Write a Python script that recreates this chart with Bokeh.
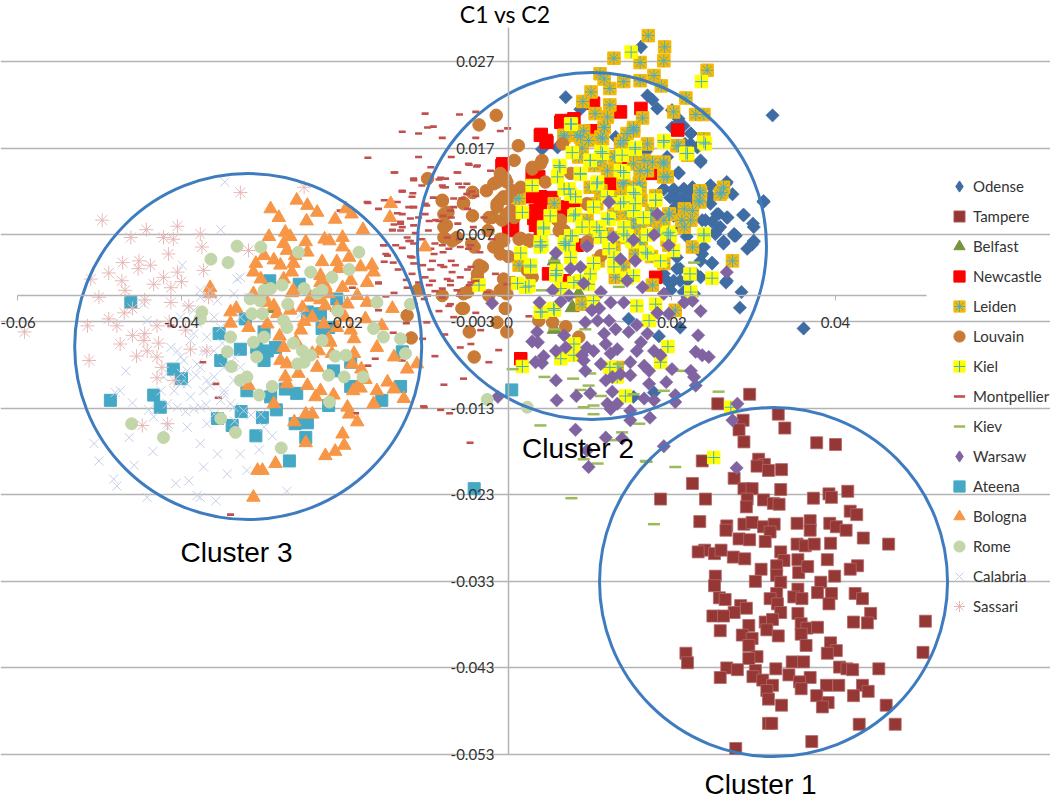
from bokeh.plotting import figure
from bokeh.models import ColumnDataSource, FixedTicker, Range1d, Legend, LegendItem
from bokeh.core.properties import value
from bokeh.embed import file_html
from bokeh.resources import INLINE

# All points are (C1, C2) in thousandths
odense = [(16.2,28.7),(32.3,20.8),(7.0,22.9),(8.8,21.5),(17.0,23.1),(17.6,22.6),(18.2,21.6),(20.0,21.4),(20.8,20.4),(20.0,19.4),(22.3,18.7),(13.1,18.3),(4.1,16.9),(6.0,17.1),(22.3,17.5),(23.5,15.4),(20.8,14.1),(16.8,16.6),(24.7,12.7),(26.6,12.9),(31.2,10.9),(19.0,12.3),(20.2,12.1),(21.5,12.3),(20.6,11.0),(21.9,11.4),(20.6,10.0),(22.3,10.0),(24.7,10.6),(25.5,9.4),(26.8,9.0),(28.7,9.3),(30.0,7.9),(25.5,7.5),(27.6,6.9),(23.7,8.7),(21.0,7.9),(30.0,6.2),(26.3,6.2),(29.8,5.9),(26.3,6.0),(23.7,4.8),(24.9,3.7),(26.6,1.5),(28.5,0.4),(28.3,-1.4),(20.6,3.1),(19.4,1.7),(21.0,1.7),(22.7,0.2),(19.8,0.6),(23.5,2.1),(14.7,-2.7),(18.4,-4.7),(21.0,-3.7),(17.8,-11.2),(36.1,-3.8),(15.3,-11.7),(27.6,7.1),(21.9,-0.2),(21.0,9.0),(21.8,6.8),(22.5,11.0),(20.2,9.2)]
odense += [(20.2,19.4),(21.4,19.6),(22.3,18.7),(23.5,15.6),(20.8,14.2),(19.0,12.3),(20.2,12.3),(21.4,12.3),(22.5,12.5),(19.8,11.3),(20.8,11.3),(21.9,11.7),(20.6,10.4),(21.4,10.4),(20.8,9.2),(20.2,10.0),(24.7,12.7),(26.7,13.1),(24.7,11.5),(27.4,11.7),(31.2,10.8),(25.7,9.4),(26.7,9.0),(28.8,9.3),(24.1,8.7),(24.9,8.5),(25.9,7.9),(29.9,8.3),(27.8,6.9),(25.3,7.1),(26.3,6.2),(30.0,6.3),(29.2,5.4),(19.4,16.0),(23.1,17.1),(21.6,17.5),(24.9,3.8),(26.7,1.7),(21.0,3.1),(20.2,1.7),(21.9,1.7),(19.8,0.6),(21.4,0.4),(22.9,2.5),(23.5,4.0),(19.0,2.5),(23.9,5.6),(20.6,4.4)]
tampere = [(29.5,-11.4),(25.6,-12.5),(33.0,-13.7),(28.7,-14.4),(28.2,-15.5),(33.8,-15.3),(28.8,-16.9),(37.7,-17.0),(40.0,-17.2),(30.6,-18.9),(23.7,-19.1),(31.3,-19.5),(30.4,-19.7),(31.8,-20.2),(33.4,-20.1),(27.6,-21.1),(22.5,-21.7),(28.8,-22.3),(29.8,-22.3),(33.3,-22.4),(18.6,-23.5),(24.1,-23.5),(29.2,-23.5),(29.1,-24.4),(31.2,-23.6),(32.4,-24.0),(33.1,-24.1),(37.3,-23.4),(39.2,-22.9),(39.5,-23.3),(41.5,-22.6),(41.8,-24.9),(42.6,-25.3),(23.4,-26.1),(26.7,-26.6),(26.6,-27.1),(28.8,-26.4),(29.8,-26.2),(31.2,-26.7),(32.5,-26.4),(32.0,-27.3),(35.3,-26.3),(36.9,-26.0),(39.3,-26.3),(40.1,-26.7),(41.3,-27.1),(36.9,-27.1),(28.2,-28.1),(29.5,-28.2),(31.4,-28.4),(43.4,-28.0),(46.5,-28.7),(39.4,-28.6),(35.3,-28.7),(36.3,-28.9),(37.4,-28.7),(24.0,-29.4),(23.2,-29.6),(25.2,-29.8),(26.0,-29.4),(27.5,-30.2),(28.9,-30.4),(33.3,-29.6),(33.7,-30.6),(35.4,-30.5),(39.0,-30.5),(32.8,-31.2),(30.9,-31.6),(35.5,-32.0),(36.6,-31.3),(42.7,-31.2),(41.8,-31.6),(25.3,-32.4),(25.2,-33.5),(30.2,-33.0),(32.8,-32.3),(33.3,-33.1),(39.9,-32.4),(38.2,-33.1),(37.8,-34.3),(35.4,-33.9),(32.8,-34.4),(39.5,-34.4),(39.2,-35.6),(42.4,-34.4),(43.3,-35.0),(25.8,-34.9),(26.5,-35.1),(28.4,-35.8),(29.1,-36.1),(27.6,-36.6),(32.0,-35.0),(32.9,-35.6),(34.9,-34.8),(35.9,-35.0),(33.3,-36.6),(25.0,-37.0),(26.3,-37.0),(35.4,-36.7),(44.3,-36.7),(31.4,-37.7),(32.3,-37.4),(29.4,-38.1),(35.8,-37.9),(36.5,-38.4),(37.8,-38.3),(42.2,-37.7),(43.9,-37.8),(51.0,-37.6),(25.9,-38.7),(31.6,-38.6),(33.0,-39.3),(35.8,-39.1),(28.6,-39.2),(29.8,-39.6),(29.4,-40.4),(36.4,-40.4),(39.4,-40.1),(40.1,-41.0),(39.0,-41.3),(21.7,-41.3),(21.9,-42.4),(50.7,-41.2),(30.4,-41.7),(29.4,-41.9),(34.7,-42.3),(36.1,-42.3),(26.7,-43.0),(28.0,-43.2),(32.7,-43.1),(40.5,-42.9),(41.4,-43.1),(42.1,-43.2),(45.3,-43.1),(25.9,-44.1),(30.2,-43.3),(29.9,-44.0),(31.1,-44.4),(34.3,-43.8),(36.9,-44.1),(35.6,-44.6),(32.3,-45.0),(35.8,-45.4),(38.9,-45.0),(40.4,-45.0),(31.6,-45.6),(43.3,-45.0),(44.0,-45.7),(37.7,-46.2),(42.2,-46.2),(31.8,-46.6),(39.1,-47.0),(38.4,-47.5),(46.2,-47.3),(33.4,-47.3),(31.8,-49.4),(32.2,-49.4),(42.9,-49.5),(47.3,-49.5),(37.1,-51.5),(27.8,-52.3)]
belfast = [(8.6,0.2),(7.8,-1.4),(5.6,4.0),(5.6,-3.9),(-28.7,-1.5)]
newcastle = [(10.4,22.2),(6.5,20.2),(8.0,20.4),(13.7,21.2),(16.2,21.6),(20.7,19.1),(4.0,18.6),(4.6,17.9),(-0.8,15.0),(2.9,13.9),(3.9,10.0),(3.1,8.9),(0.5,7.9),(12.5,12.9),(15.0,15.6),(17.4,14.1),(7.2,10.2),(8.0,11.0),(3.9,11.4),(2.9,11.4),(3.7,13.7),(10.2,19.0),(7.4,19.6),(13.1,2.1),(4.9,2.5),(6.8,1.7),(0.05,7.5),(3.9,7.3),(1.5,-7.3),(8.4,5.8),(18.0,2.1)]
newcastle += [(3.9,18.5),(4.7,17.7),(6.4,20.0),(-0.7,15.2),(3.3,9.8),(5.3,11.3),(3.9,8.7),(6.8,10.2),(0.0,8.3),(7.4,9.8),(3.3,8.1),(4.5,11.2),(13.1,12.7),(14.1,15.2),(10.2,19.0)]
leiden = [(17.1,30.0),(19.1,28.7),(12.9,27.4),(16.1,26.9),(19.0,27.1),(24.3,26.0),(17.8,25.4),(11.2,25.6),(11.7,25.0),(14.1,24.7),(16.1,24.8),(18.7,24.2),(12.4,23.9),(10.1,23.5),(9.1,22.4),(21.7,22.8),(12.4,22.0),(20.2,21.2),(22.9,20.9),(23.9,20.9),(10.6,21.0),(12.1,20.6),(16.4,20.5),(11.7,19.4),(15.3,19.2),(14.5,18.7),(6.8,18.5),(8.4,18.5),(9.8,17.9),(11.5,18.1),(9.0,17.0),(23.9,18.1),(17.0,17.5),(20.6,17.3),(13.7,17.5),(21.9,16.2),(19.0,15.4),(15.3,15.2),(11.3,15.6),(17.0,14.4),(19.4,13.7),(25.9,11.7),(26.3,12.5),(23.4,12.1),(23.3,11.0),(19.7,9.4),(21.5,10.0),(22.3,8.7),(0.9,11.2),(16.2,11.0),(13.7,11.4),(11.3,12.1),(16.6,8.7),(15.3,7.9),(19.0,8.7),(12.9,9.4),(9.6,8.7),(5.6,10.6),(21.5,7.9),(12.1,7.1),(19.4,6.4),(16.2,6.2),(27.4,4.0),(22.5,5.6),(19.0,3.7),(17.6,1.2),(14.1,3.3),(13.1,2.1),(1.3,3.5),(9.0,-1.0),(20.4,-1.7),(13.3,-8.3),(16.2,6.3),(12.9,5.2),(14.0,13.0),(16.0,13.0),(18.0,11.5),(17.5,9.8),(14.5,9.5),(10.5,15.0),(13.0,16.0),(17.5,4.5),(11.0,4.0),(15.5,4.8)]
leiden += [(1.3,11.2),(6.8,18.3),(8.8,18.3),(11.3,18.3),(14.1,17.9),(15.3,19.4),(8.6,16.0),(12.1,14.4),(12.5,11.3),(10.0,12.5),(10.8,10.6),(15.3,12.5),(14.1,12.9),(15.3,8.7),(13.5,6.7),(11.7,19.4),(9.2,19.0),(10.4,7.1),(13.1,16.0),(15.3,16.4),(20.8,17.3),(19.0,15.2),(16.6,15.6),(17.6,15.4),(16.1,14.4),(19.0,13.7),(23.5,11.9),(23.4,10.8),(26.1,11.9),(19.6,9.4),(21.2,8.7),(22.5,9.8),(16.1,12.5),(16.1,8.3),(17.4,8.7),(18.4,7.5),(15.7,6.7),(19.6,5.8),(15.3,19.0)]
louvain = [(-1.5,20.8),(-3.6,19.7),(1.2,17.3),(0.7,15.6),(-9.9,13.5),(-1.0,14.1),(3.9,15.2),(2.9,14.6),(-1.4,13.1),(-2.7,12.1),(-4.4,11.9),(-8.1,11.0),(-5.5,10.7),(-1.0,11.0),(-1.4,10.2),(0.3,9.8),(-2.0,9.0),(-7.9,9.4),(0.7,9.0),(-7.9,7.9),(6.0,8.7),(6.8,7.5),(9.6,10.6),(7.6,14.1),(4.5,13.1),(6.6,17.5),(1.5,6.6),(-0.6,6.4),(-6.3,6.7),(-7.9,6.7),(2.5,6.4),(-1.4,5.6),(-3.2,3.3),(0.5,1.5),(2.9,2.1),(-3.8,1.9),(-5.0,0.4),(-2.4,0.0),(-0.6,0.9),(-5.7,-1.5),(-0.4,-1.5),(-1.4,-3.1),(3.7,-2.9),(5.4,-3.1),(7.0,-3.6),(-0.2,-4.2),(8.6,-4.8),(-4.8,-4.2),(-4.2,-7.1),(-12.4,-2.3),(-11.9,-4.9),(2.7,6.3),(9.6,5.8),(11.3,4.6),(2.3,2.9),(-11.1,0.6),(-2.5,7.5),(-4.5,6.0),(0.0,4.5)]
louvain += [(-8.1,10.9),(-7.4,9.6),(-7.6,8.1),(-6.9,6.3),(-5.5,10.6),(-4.4,11.9),(-1.8,12.9),(-4.4,9.2),(-2.4,9.0),(-1.4,10.6),(-0.6,11.4),(-0.2,13.1),(-4.2,5.6),(-1.8,5.6),(-0.6,6.3),(-3.6,3.5),(-1.0,4.8),(-3.8,1.9),(-0.6,1.9),(-5.5,0.2),(-8.1,0.0),(-1.0,0.6),(-5.5,-1.5),(-0.2,0.2),(-3.8,2.5),(2.9,14.8),(4.1,15.6),(-0.4,13.5),(0.45,12.1),(1.5,12.5),(-0.2,11.2),(9.7,10.5),(6.4,8.7),(6.2,7.5),(1.3,6.5),(2.5,6.3),(9.6,6.2),(-0.8,8.7),(-0.2,9.4),(-1.0,6.5)]
kiel = [(15.0,28.1),(23.6,24.7),(7.7,19.8),(19.0,17.9),(24.1,17.5),(15.5,17.1),(7.8,16.5),(11.3,16.6),(13.9,16.2),(21.7,16.4),(6.2,15.0),(10.0,15.6),(8.8,14.1),(6.0,13.7),(13.7,14.4),(2.9,12.7),(10.9,13.1),(6.8,12.3),(7.6,11.7),(12.1,11.4),(15.3,11.9),(18.0,11.0),(14.1,10.8),(1.7,9.6),(5.1,9.2),(8.2,9.4),(10.4,10.2),(12.1,8.9),(4.3,7.7),(11.1,7.5),(14.1,7.1),(23.9,7.1),(19.4,7.1),(4.1,5.8),(6.8,6.0),(7.8,6.9),(1.5,4.9),(3.9,5.8),(7.4,5.8),(11.3,6.7),(14.5,6.9),(19.8,6.9),(23.9,6.9),(2.7,3.5),(2.5,1.1),(5.8,2.5),(6.4,0.8),(10.4,3.7),(12.3,5.4),(16.8,5.0),(20.2,5.2),(22.2,2.5),(24.9,2.0),(22.3,0.4),(10.0,2.5),(12.9,3.3),(18.6,4.0),(10.4,-0.6),(15.7,-1.2),(18.0,-1.0),(3.9,-1.9),(5.6,-1.7),(17.2,-2.9),(8.0,-5.6),(8.0,-6.9),(19.5,-5.9),(6.4,-7.3),(1.7,-8.2),(12.4,-8.3),(13.3,-9.4),(14.3,-11.6),(18.6,-7.7),(27.2,-12.9),(25.1,-18.7),(-3.6,1.2),(9.0,7.9),(16.5,9.0),(17.0,7.0),(14.5,2.0),(8.0,1.5)]
kiel += [(7.6,19.8),(6.3,14.8),(8.8,14.0),(10.8,12.9),(7.4,12.3),(8.2,11.4),(8.0,9.2),(4.3,7.9),(7.6,6.9),(12.3,8.8),(14.1,14.2),(15.3,9.8),(13.7,10.6),(10.0,15.6),(11.5,16.4),(10.8,7.9),(14.1,7.9),(15.1,6.2),(3.9,6.2),(7.0,6.2),(19.0,17.7),(15.5,16.9),(21.9,16.4),(23.9,17.7),(18.0,11.0),(15.5,11.7),(15.5,10.6),(19.6,7.3),(2.7,3.3),(5.8,2.3),(10.4,3.7),(12.9,4.4),(17.0,4.8),(15.3,2.3),(8.8,1.7),(9.8,1.3),(1.1,1.4),(2.1,0.96),(7.6,4.4),(3.9,5.6),(7.0,5.8),(5.9,2.9),(4.1,-1.9),(5.5,-1.5)]
montpellier = [(-10.2,21.0),(-6.0,20.9),(-4.0,21.2),(-9.2,19.5),(-9.9,19.4),(-11.0,18.7),(-8.1,18.2),(-13.0,18.9),(-0.1,19.3),(-1.0,19.0),(-4.0,18.2),(-4.9,15.2),(-6.2,14.2),(-8.3,13.6),(-11.6,13.5),(-2.2,14.4),(-3.8,15.0),(-8.0,12.5),(-6.1,12.9),(-11.7,11.8),(-13.0,12.1),(-9.2,11.3),(-12.2,10.2),(-6.7,10.2),(-11.0,9.0),(-8.0,9.2),(-13.0,7.9),(-9.8,7.5),(-6.2,8.3),(-11.4,7.2),(-4.3,7.9),(-17.2,15.9),(-13.9,14.2),(-11.6,13.4),(-13.0,12.0),(-17.2,10.7),(-15.9,10.0),(-13.6,9.5),(-11.6,10.2),(-13.2,8.3),(-14.2,7.6),(-12.2,6.3),(-14.8,4.6),(-14.1,3.8),(-15.3,5.8),(-19.1,0.9),(-20.6,9.8),(-15.9,1.5),(-12.4,0.9),(-15.0,-0.1),(-15.9,-1.7),(-14.1,-4.3),(-16.3,-7.3),(-17.2,-8.1),(-18.7,-13.6),(-10.4,-12.8),(-35.5,-11.8),(-35.8,-10.2),(-37.4,-7.7),(-34.0,-25.3),(-41.3,-3.5),(-8.3,3.5),(-7.1,1.7),(-11.8,2.5),(-9.7,1.2),(-10.3,-0.4),(-7.1,-1.0),(-4.0,1.7),(-1.6,2.5),(-6.7,-2.5),(-10.0,-3.1),(-3.4,-4.0),(-4.6,-5.6),(-2.4,-7.7),(-1.2,-6.3),(-5.9,-6.0),(-5.5,-9.6),(-7.9,-10.3),(-10.3,-12.9),(-8.3,-13.2),(-7.2,-13.6),(-4.7,-17.0),(2.5,-2.4),(-0.2,1.3),(-2.6,0.4),(-4.6,5.8),(-7.5,6.7),(-11.6,6.0),(-9.1,4.8),(-13,5.5),(-12,4.5),(-10.5,3.5),(-11,1.5),(-9,6),(-8,5),(-7,4),(-6,6.5),(-5,3),(-8.5,8.6),(-7,9),(-10,10.4),(-9,0.5),(-13.5,3),(-12.5,1.8),(-14,0.3),(-11.5,-1),(-8.5,-1.8),(-6,0),(-4,-2),(-12.5,-3.2),(-10.5,-5),(-7.8,-4.5),(-9,-7),(-13,-7.5),(-5,10),(-3,9),(-3.5,5),(-2,6.5),(-4.5,12),(-9.5,14.8),(-7,16),(-11,16)]
montpellier += [(-14.0,14.2),(-11.6,13.3),(-8.5,13.4),(-7.7,13.5),(-6.3,14.2),(-4.8,15.1),(-3.9,14.9),(-10.6,12.7),(-13.0,12.0),(-5.7,12.5),(-5.1,12.9),(-8.1,12.7),(-17.3,10.8),(-15.2,11.0),(-13.6,10.8),(-11.8,11.4),(-11.6,10.2),(-10.2,10.6),(-6.7,11.2),(-5.7,11.2),(-13.0,9.4),(-12.0,8.9),(-10.2,9.4),(-13.2,8.5),(-14.0,8.2),(-9.7,8.6),(-8.9,8.7),(-14.2,7.5),(-13.2,7.5),(-11.6,8.1),(-12.4,6.7),(-12.0,6.3),(-15.2,5.8),(-13.8,5.8),(-10.6,6.5),(-8.1,5.8),(-7.3,5.4),(-5.9,5.6),(-4.9,5.4),(-15.0,4.8),(-11.8,4.4),(-9.5,5.4),(-15.2,3.9),(-11.6,3.7),(-9.3,4.0),(-7.9,3.3),(-6.5,3.5),(-4.6,3.3),(-9.5,3.0),(-6.9,2.7),(-15.9,1.4),(-10.2,2.1),(-9.3,1.7),(-7.5,1.9),(-5.9,2.1),(-8.1,0.8),(-7.1,1.2),(-4.8,1.2),(-6.3,0.6),(-9.9,0.0),(-7.3,-1.2),(-8.1,-0.2),(-4.6,1.5),(-7.7,12.5),(-5.1,11.7),(-4.0,11.5),(-7.1,9.8)]
kiev = [(4.1,0.6),(5.6,4.0),(5.6,-3.9),(9.4,-3.9),(13.5,1.0),(22.7,3.8),(0.5,-8.5),(4.4,-9.4),(7.9,-9.6),(10.0,-9.0),(13.5,-7.9),(19.0,-11.0),(8.8,-10.9),(9.8,-10.4),(11.3,-11.6),(15.3,-11.4),(21.0,-8.7),(25.7,-11.1),(10.4,-12.7),(9.2,-12.9),(10.4,-13.7),(3.9,-15.0),(13.9,-15.8),(16.0,-14.8),(12.9,-16.7),(9.2,-18.9),(10.9,-19.4),(16.9,-19.2),(20.4,-19.8),(7.7,-23.4),(17.8,-26.4),(16.8,-19.1)]
warsaw = [(12.3,10.8),(18.2,9.4),(12.8,6.7),(17.8,7.0),(15.3,6.4),(9.6,5.7),(19.6,5.8),(5.8,4.9),(13.7,4.2),(15.5,4.0),(7.6,3.1),(8.8,3.3),(9.2,1.4),(14.5,1.7),(16.4,0.96),(5.4,0.6),(7.4,0.0),(19.0,0.2),(26.7,2.7),(-2.0,-0.9),(3.8,-0.8),(6.4,-0.7),(11.3,0.4),(12.5,-0.8),(14.1,-0.8),(21.5,-0.8),(22.5,-0.6),(10.2,-1.7),(11.1,-1.5),(23.5,-1.8),(18.2,-2.0),(19.6,-2.1),(9.4,-3.1),(10.9,-2.9),(12.3,-2.9),(15.7,-3.4),(13.1,-3.9),(14.7,-4.2),(17.0,-4.4),(23.2,-4.6),(11.7,-4.4),(3.5,-4.2),(2.9,-5.3),(3.6,-5.4),(6.8,-4.6),(7.0,-6.0),(5.8,-6.4),(11.9,-5.6),(13.3,-6.2),(16.2,-5.4),(15.7,-6.4),(9.6,-6.0),(10.4,-6.4),(9.0,-6.9),(4.3,-7.0),(3.3,-7.7),(4.1,-7.8),(12.5,-6.7),(17.8,-6.4),(18.6,-6.9),(22.9,-6.5),(23.7,-6.9),(24.5,-7.1),(9.2,-7.5),(11.3,-7.9),(14.9,-7.7),(16.6,-8.1),(9.4,-8.7),(17.2,-8.7),(20.0,-8.5),(22.3,-8.7),(13.7,-9.1),(14.9,-9.2),(11.9,-9.8),(12.7,-9.4),(17.2,-10.2),(5.8,-9.8),(19.3,-10.0),(22.7,-9.4),(22.9,-10.4),(12.7,-11.1),(-1.3,-11.7),(8.3,-11.6),(10.0,-11.3),(5.9,-12.1),(20.4,-11.5),(20.4,-12.3),(16.6,-11.9),(17.8,-12.1),(12.1,-12.5),(13.3,-12.5),(12.5,-13.1),(14.9,-13.3),(28.0,-12.5),(14.9,-14.4),(17.3,-14.1),(27.4,-14.4),(8.2,-15.5),(11.9,-16.4),(13.9,-16.5),(19.0,-17.4),(9.6,-17.9),(9.8,-19.8),(27.9,-19.9)]
ateena = [(-46.2,-0.8),(-29.2,1.7),(-25.6,1.3),(-21.0,-0.4),(-32.2,-2.7),(-24.6,-1.9),(-23.0,-2.1),(-35.4,-4.4),(-29.9,-4.2),(-22.8,-3.8),(-22.0,-3.7),(-32.8,-6.2),(-30.8,-6.0),(-29.5,-6.4),(-28.5,-6.0),(-29.9,-7.5),(-35.2,-7.5),(-41.0,-8.5),(-40.0,-9.6),(-13.0,-6.5),(-21.4,-8.7),(-19.3,-7.7),(-19.3,-10.5),(-13.2,-10.5),(-43.4,-11.5),(-48.7,-12.1),(-42.6,-12.9),(-32.0,-11.0),(-29.1,-11.7),(-27.3,-10.8),(-25.9,-11.3),(-15.5,-12.1),(-32.7,-13.4),(-35.6,-14.2),(-33.8,-15.0),(-30.1,-14.1),(-28.4,-13.2),(-26.1,-14.8),(-24.6,-14.7),(-30.9,-16.2),(-24.8,-16.4),(-26.8,-19.1),(-22.0,-12.7),(0.4,-10.9),(-4.2,-22.3)]
bologna = [(-29.1,10.0),(-25.9,11.0),(-28.1,9.0),(-24.6,10.4),(-23.4,9.6),(-24.7,8.6),(-21.2,8.8),(-19.9,10.0),(-19.2,9.4),(-14.4,10.6),(-14.5,9.0),(-17.8,7.6),(-27.3,7.3),(-29.3,6.8),(-26.7,6.8),(-27.5,6.0),(-24.8,6.2),(-22.5,6.5),(-21.9,6.3),(-20.3,6.7),(-20.3,5.6),(-27.1,5.2),(-24.6,5.0),(-19.5,4.4),(-29.9,4.6),(-28.7,4.1),(-30.9,3.7),(-27.9,3.5),(-26.3,3.7),(-26.1,4.6),(-22.8,3.9),(-21.0,3.9),(-20.8,3.1),(-18.1,3.3),(-16.7,3.5),(-16.5,2.7),(-31.2,2.7),(-30.3,1.9),(-27.5,1.9),(-26.5,2.7),(-23.0,2.3),(-19.3,1.7),(-17.3,1.5),(-36.5,0.9),(-36.5,0.2),(-26.3,0.6),(-23.0,1.5),(-22.0,0.2),(-20.3,0.9),(-18.5,0.0),(-17.3,-0.8),(-34.0,-1.9),(-33.3,-1.5),(-34.0,-3.2),(-31.8,-3.7),(-28.7,-1.2),(-25.2,-1.4),(-22.4,-1.2),(-19.7,-1.0),(-14.2,-1.5),(-17.5,-2.7),(-22.6,-3.3),(-29.5,-3.3),(-28.3,-2.1),(-25.4,-4.0),(-21.0,-3.7),(-19.3,-4.0),(-15.5,-3.5),(-18.9,-5.0),(-21.8,-5.4),(-16.1,-6.0),(-14.0,-7.1),(-27.5,-6.0),(-23.2,-6.4),(-21.6,-6.7),(-18.9,-6.7),(-19.1,-7.9),(-27.9,-7.5),(-27.1,-7.9),(-23.4,-8.3),(-12.4,-8.5),(-27.3,-9.4),(-25.7,-9.0),(-27.1,-10.2),(-24.6,-10.4),(-14.8,-10.0),(-16.1,-11.0),(-14.0,-10.8),(-31.8,-10.4),(-23.0,-11.0),(-23.6,-11.7),(-21.4,-11.5),(-18.5,-10.6),(-18.1,-10.7),(-12.8,-11.9),(-16.5,-12.5),(-28.7,-12.5),(-19.7,-12.9),(-19.5,-13.7),(-24.0,-13.7),(-24.8,-13.7),(-26.2,-14.6),(-18.5,-14.6),(-20.3,-16.0),(-24.8,-17.0),(-20.1,-17.3),(-21.2,-18.0),(-22.4,-18.5),(-28.5,-19.4),(-30.7,-20.2),(-30.1,-20.2),(-31.2,-23.3),(-10.2,5.6),(-22.4,1.1),(-21.0,-1.4),(-24.2,-0.2),(-26.7,-1.7),(-24.0,-2.5),(-31.2,0.2),(-11.2,-7.9),(-25,-3),(-26,-5.3),(-24,-6.7),(-20,-2.5),(-23,-0.5),(-28,-4.7),(-22,-5),(-18,-8.5),(-17.5,-9.7),(-19,-11),(-29.5,-0.8),(-26.5,0.3)]
rome = [(-33.2,5.7),(-30.3,5.6),(-36.4,4.2),(-34.3,3.8),(-25.7,5.0),(-18.3,5.0),(-19.5,3.0),(-24.2,2.7),(-21.6,2.1),(-27.7,1.2),(-29.1,0.8),(-29.9,0.6),(-25.0,0.8),(-22.8,0.6),(-23.4,0.2),(-31.6,-0.4),(-30.4,-0.6),(-27.0,-1.0),(-16.1,-0.8),(-12.0,-1.0),(-31.4,-2.1),(-30.1,-2.1),(-37.5,-1.9),(-37.7,-2.7),(-20.9,-1.8),(-27.5,-2.9),(-27.1,-3.7),(-16.5,-3.8),(-15.3,-4.8),(-13.2,-5.0),(-34.0,-4.8),(-29.9,-4.8),(-31.2,-5.4),(-22.8,-5.2),(-26.3,-5.5),(-25.2,-6.4),(-24.2,-6.9),(-34.4,-6.5),(-30.8,-7.1),(-21.2,-7.0),(-19.9,-6.9),(-12.6,-6.7),(-25.0,-7.7),(-25.8,-7.9),(-33.9,-8.2),(-32.0,-9.4),(-32.8,-9.8),(-22.0,-9.2),(-20.1,-9.4),(-17.8,-9.4),(-28.9,-10.5),(-30.5,-11.5),(-21.9,-12.3),(-35.2,-14.2),(-33.4,-15.8),(-46.1,-14.8),(-42.2,-16.4),(-27.8,-17.6),(-2.6,-12.0),(2.3,-12.9)]
calabria = [(-34.7,13.1),(-35.2,7.6),(-39.9,3.5),(-33.2,1.9),(-37.7,0.6),(-44.6,-1.0),(-35.6,-0.6),(-44.2,-2.9),(-38.5,-4.4),(-36.9,-4.8),(-40.5,-6.4),(-46.8,-8.7),(-39.7,-7.5),(-37.7,-8.3),(-36.0,-9.4),(-48.1,-11.2),(-40.9,-11.0),(-38.9,-11.7),(-37.3,-11.0),(-35.2,-12.1),(-33.6,-12.9),(-38.5,-13.1),(-36.0,-13.7),(-40.5,-12.9),(-29.9,-15.2),(-50.7,-17.1),(-50.1,-19.1),(-46.4,-16.4),(-45.8,-19.6),(-48.3,-21.2),(-47.9,-22.0),(-40.7,-21.7),(-39.1,-21.4),(-44.2,-23.3),(-38.1,-23.1),(-37.7,-23.3),(-35.8,-23.7),(-27.1,-22.6),(-37.7,-17.1),(-35.6,-18.3),(-32.8,-18.3),(-37.3,-19.8),(-34.4,-20.6),(-32.0,-20.2),(-28.9,-16.2),(-33.6,-9.8),(-37.3,-6.4),(-35.2,-3.7),(-39.3,-10.2),(-41.7,-15.2),(-32.8,-8.3),(-31.8,-0.2),(-25.4,-2.1),(-32.8,-2.5),(-42.2,-9.4),(-38.2,-9.2),(-36.5,-10.4),(-34.8,-11.4),(-40,-9),(-42.5,-11),(-37,-12.6),(-39.5,-13.4),(-33.5,-7.2),(-35,-5.5),(-38,-3.2),(-31.5,-13.8),(-44,-13.2),(-46,-12.4),(-43.5,-18),(-30.5,-17.8),(-33.5,-14.5)]
calabria += [(-38.9,-5.2),(-40.1,-7.1),(-38.1,-7.9),(-36.9,-9.8),(-39.3,-8.7),(-41.3,-6.0),(-41.7,-12.5),(-40.1,-10.2),(-37.7,-12.9),(-34.8,-11.0),(-34.0,-12.5),(-32.4,-13.3),(-30.3,-13.7),(-36.9,-14.8),(-39.3,-15.2),(-43.4,-14.0),(-47.5,-11.0),(-34.8,-8.3),(-36.0,-6.4),(-38.5,-1.7),(-36.0,-2.5),(-37.7,-0.2),(-33.6,0.2),(-32.8,2.1),(-36.5,0.6),(-39.3,-1.4),(-40.1,-2.5)]
sassari = [(-59.2,-4.2),(-49.7,8.7),(-44.3,7.6),(-40.5,8.0),(-46.2,6.7),(-42.2,6.7),(-41.0,6.5),(-37.7,7.1),(-37.5,5.6),(-41.6,4.8),(-45.2,4.0),(-43.8,3.5),(-45.3,3.1),(-48.9,2.6),(-47.3,1.7),(-51.1,1.9),(-42.2,2.1),(-40.5,2.7),(-37.3,2.9),(-43.4,1.3),(-41.3,0.9),(-46.9,0.6),(-50.1,-0.2),(-41.3,-0.8),(-39.1,-1.2),(-48.9,-2.7),(-47.9,-3.5),(-51.5,-3.5),(-46.0,-4.6),(-44.6,-5.2),(-47.5,-5.6),(-44.2,-6.4),(-51.3,-7.5),(-43.0,-7.1),(-42.4,-8.3),(-40.9,-9.8),(-36.9,-6.4),(-38.9,-6.2),(-44.8,-15.0),(-41.7,-14.8),(-32.8,11.9),(-25.0,12.5),(-31.8,5.2),(-36.7,-0.2),(-44.5,-4.4),(-43.0,-3.5),(-47.2,3.8),(-40.0,1.6),(-46,-1.5),(-44.5,-0.5),(-42.8,-5.5),(-45.5,-7),(-41.5,-3),(-39.5,-4),(-43,-9.5),(-47,-2)]

x_ticks = [-0.06, -0.04, -0.02, 0, 0.02, 0.04]
x_tick_labels = ["-0.06", "-0.04", "-0.02", "0", "0.02", "0.04"]
y_ticks = [0.027, 0.017, 0.007, -0.003, -0.013, -0.023, -0.033, -0.043, -0.053]
y_tick_labels = ["0.027", "0.017", "0.007", "-0.003", "-0.013", "-0.023", "-0.033", "-0.043", "-0.053"]

cluster_names = ["Cluster 3", "Cluster 2", "Cluster 1"]
cluster_cx = [-0.03184, 0.01021, 0.03242]
cluster_cy = [-0.00589, 0.00571, -0.03308]
cluster_w = [0.04245, 0.04269, 0.04257]
cluster_h = [0.03994, 0.04006, 0.04029]
label_x = [-0.03327, 0.00850, 0.03083]
label_y = [-0.02967, -0.01766, -0.05640]

W, H = 1050, 796
p = figure(width=W, height=H, output_backend="svg", toolbar_location=None,
           x_range=Range1d(-0.06214, 0.0663), y_range=Range1d(-0.05784, 0.03406),
           min_border=0, outline_line_color=None, margin=0,
           background_fill_color="white", border_fill_color="white")

GRID = "#b4b4b4"
xa, ya = p.xaxis[0], p.yaxis[0]
p.xgrid.visible = False
g = p.ygrid[0]
g.ticker = FixedTicker(ticks=y_ticks)
g.grid_line_color = GRID
g.grid_line_width = 1.5
g.bounds = (-0.06, 0.0511)

xa.fixed_location = 0
xa.ticker = FixedTicker(ticks=x_ticks)
xa.major_label_overrides = dict(zip(x_ticks, x_tick_labels))
xa.bounds = (-0.06, 0.0511)
xa.major_tick_in = 0
xa.major_tick_out = 5
xa.minor_tick_line_color = None
xa.major_label_standoff = 16
ya.fixed_location = 0
ya.ticker = FixedTicker(ticks=y_ticks)
ya.major_label_overrides = dict(zip(y_ticks, y_tick_labels))
ya.bounds = (-0.053, 0.0309)
ya.major_tick_in = 0
ya.major_tick_out = 0
ya.minor_tick_line_color = None
ya.major_label_standoff = 14
for a in (xa, ya):
    a.axis_line_color = GRID
    a.axis_line_width = 1.5
    a.major_tick_line_color = GRID
    a.major_label_text_font = "Lato"
    a.major_label_text_font_size = "15px"
    a.major_label_text_color = "#333333"


def src(points):
    return ColumnDataSource(dict(x=[a / 1000 for a, _ in points], y=[b / 1000 for _, b in points]))


D = 0.7854
items = []
def add(name, layers):
    items.append(LegendItem(label=name, renderers=layers))


def sc(points, **kw):
    return p.scatter("x", "y", source=src(points), **kw)


# a slim diamond under the first point of each diamond series is what the legend key shows
add("Odense", [sc(odense[:1], marker="diamond", size=13, fill_color="#3f6ca3", line_color="#3f6ca3")])
sc(odense, marker="square", angle=D, size=9.5, fill_color="#3f6ca3", line_color="#3f6ca3", line_width=0.5)
add("Tampere", [sc(tampere, marker="square", size=12, fill_color="#953735", line_color="#b06a68", line_width=0.8)])
add("Belfast", [sc(belfast, marker="triangle", size=14, fill_color="#77933c", line_color="#77933c")])
add("Newcastle", [sc(newcastle, marker="square", size=12.5, fill_color="#ff0000", line_color="#ff0000")])
add("Leiden", [sc(leiden, marker="square", size=12.5, fill_color="#f7b900", line_color="#f7b900"),
               sc(leiden, marker="asterisk", size=12.5, fill_color=None, line_color="#4bacc6", line_width=1)])
add("Louvain", [sc(louvain, marker="circle", size=12.5, fill_color="#c97a35", line_color="#c97a35")])
add("Kiel", [sc(kiel, marker="square", size=12.5, fill_color="#ffff00", line_color="#ffff00"),
             sc(kiel, marker="cross", size=12.5, line_color="#4bacc6", line_width=1)])
add("Montpellier", [sc(montpellier, marker="dash", size=7, line_color="#c0504d", line_width=2.6)])
add("Kiev", [sc(kiev, marker="dash", size=12, line_color="#9bbb59", line_width=2.5)])
add("Warsaw", [sc(warsaw[:1], marker="diamond", size=13, fill_color="#8064a2", line_color="#8064a2")])
sc(warsaw, marker="square", angle=D, size=9.5, fill_color="#8064a2", line_color="#8064a2", line_width=0.5)
add("Ateena", [sc(ateena, marker="square", size=12, fill_color="#45a9c5", line_color="#45a9c5")])
add("Bologna", [sc(bologna, marker="triangle", size=13.5, fill_color="#f79646", line_color="#f79646")])
add("Rome", [sc(rome, marker="circle", size=12, fill_color="#c3d6a9", line_color="#c3d6a9")])
add("Calabria", [sc(calabria, marker="x", size=13, line_color="#c5d0e6", line_width=1)])
add("Sassari", [sc(sassari, marker="asterisk", size=14, line_color="#e6b9b8", line_width=1)])

p.ellipse(cluster_cx, cluster_cy, width=cluster_w, height=cluster_h, fill_color=None,
          line_color="#3f7cbf", line_width=3)
p.text(label_x, label_y, text=cluster_names, text_font=value("Liberation Sans"), text_font_size="28px",
       text_color="black", text_align="center", text_baseline="middle")
p.text([-0.0004], [0.03250], text=["C1 vs C2"], text_font=value("Lato"), text_font_size="23px",
       text_color="black", text_align="center", text_baseline="middle")

legend = Legend(items=items, location=(945, 175), orientation="vertical", padding=0, margin=0, spacing=0,
                glyph_width=28, glyph_height=30, label_height=30, label_standoff=-5,
                label_text_font="Lato", label_text_font_size="15px", label_text_color="#333333",
                background_fill_alpha=0, border_line_color=None)
p.add_layout(legend, "center")

open("out.html", "w").write(file_html(p, INLINE))
